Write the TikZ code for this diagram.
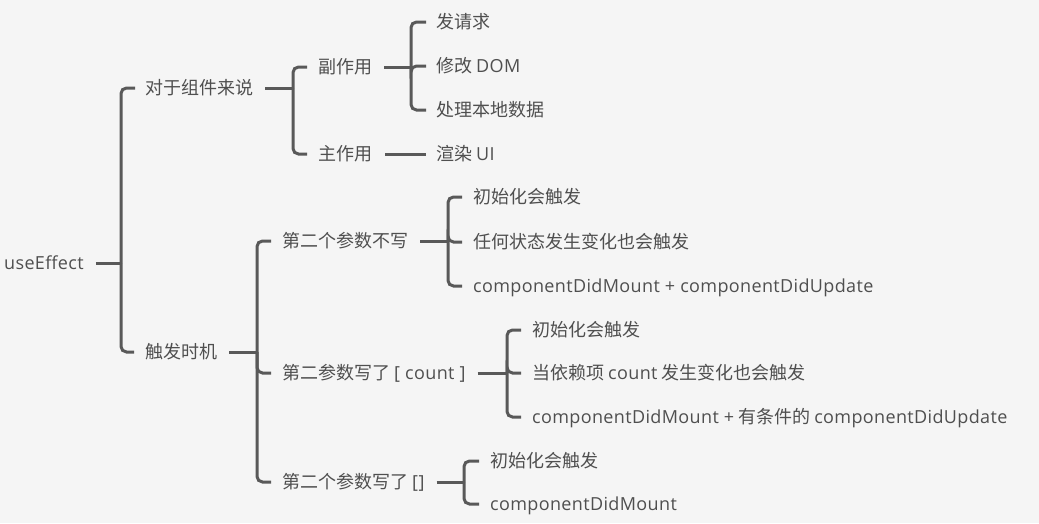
\documentclass[tikz,border=0pt]{standalone}
\usepackage{fontspec}
\setmainfont{Noto Sans CJK SC}
\newfontfamily\latf[LetterSpace=2]{Open Sans}
\newcommand{\la}[1]{{\latf #1}}
\definecolor{bgc}{HTML}{F5F5F5}
\definecolor{linec}{HTML}{595959}
\definecolor{txtc}{HTML}{4F4F4F}
\tikzset{
  txt/.style={anchor=west, inner sep=0pt, text height=13pt, text depth=0pt,
    font=\fontsize{18pt}{20pt}\selectfont, text=txtc},
  conn/.style={draw=linec, line width=3pt},
  brk/.style={conn, rounded corners=5.5pt}
}
\begin{document}
\begin{tikzpicture}[x=1pt,y=-1pt]
\fill[bgc] (0,0) rectangle (1039,523);
\useasboundingbox (0,0) rectangle (1039,523);
% nodes
\node[txt] (root) at (4,263) {\la{useEffect}};
\node[txt] (a) at (145,88) {对于组件来说};
\node[txt] (b) at (145,352) {触发时机};
\node[txt] (a1) at (318,67) {副作用};
\node[txt] (a2) at (318,154) {主作用};
\node[txt] (a11) at (436,22) {发请求};
\node[txt] (a12) at (436,66) {修改 \la{DOM}};
\node[txt] (a13) at (436,110) {处理本地数据};
\node[txt] (a21) at (436,154) {渲染 \la{UI}};
\node[txt] (b1) at (282,241) {第二个参数不写};
\node[txt] (b2) at (282,373) {第二参数写了 \la{[ count ]}};
\node[txt] (b3) at (282,482) {第二个参数写了 \la{[]}};
\node[txt] (b11) at (473,197) {初始化会触发};
\node[txt] (b12) at (473,242) {任何状态发生变化也会触发};
\node[txt] (b13) at (473,286) {\la{componentDidMount + componentDidUpdate}};
\node[txt] (b21) at (532,330) {初始化会触发};
\node[txt] (b22) at (532,373) {当依赖项 \la{count} 发生变化也会触发};
\node[txt] (b23) at (532,417) {\la{componentDidMount +} 有条件的 \la{componentDidUpdate}};
\node[txt] (b31) at (490,461) {初始化会触发};
\node[txt] (b32) at (490,504) {\la{componentDidMount}};
% junctions
\coordinate (j0) at (121,263);
\coordinate (j1) at (293,88);
\coordinate (j2) at (411,67);
\coordinate (j3) at (257,352);
\coordinate (j4) at (448,241);
\coordinate (j5) at (507,373);
\coordinate (j6) at (464,482);
% connectors
\draw[conn] ([xshift=12pt]root.east) -- (j0);
\draw[brk] (j0) |- ([xshift=-10pt]a.west);
\draw[brk] (j0) |- ([xshift=-11pt]b.west);
\draw[conn] ([xshift=12pt]a.east) -- (j1);
\draw[brk] (j1) |- ([xshift=-11pt]a1.west);
\draw[brk] (j1) |- ([xshift=-11pt]a2.west);
\draw[conn] ([xshift=12pt]a1.east) -- (j2);
\draw[brk] (j2) |- ([xshift=-10pt]a11.west);
\draw[brk] (j2) |- ([xshift=-10pt]a12.west);
\draw[brk] (j2) |- ([xshift=-10pt]a13.west);
\draw[conn] ([xshift=13pt]a2.east) -- ([xshift=-10pt]a21.west);
\draw[conn] ([xshift=12pt]b.east) -- (j3);
\draw[brk] (j3) |- ([xshift=-11pt]b1.west);
\draw[brk] (j3) |- ([xshift=-11pt]b2.west);
\draw[brk] (j3) |- ([xshift=-11pt]b3.west);
\draw[conn] ([xshift=12pt]b1.east) -- (j4);
\draw[brk] (j4) |- ([xshift=-11pt]b11.west);
\draw[brk] (j4) |- ([xshift=-11pt]b12.west);
\draw[brk] (j4) |- ([xshift=-11pt]b13.west);
\draw[conn] ([xshift=12pt]b2.east) -- (j5);
\draw[brk] (j5) |- ([xshift=-11pt]b21.west);
\draw[brk] (j5) |- ([xshift=-11pt]b22.west);
\draw[brk] (j5) |- ([xshift=-11pt]b23.west);
\draw[conn] ([xshift=12pt]b3.east) -- (j6);
\draw[brk] (j6) |- ([xshift=-11pt]b31.west);
\draw[brk] (j6) |- ([xshift=-11pt]b32.west);
\end{tikzpicture}
\end{document}
